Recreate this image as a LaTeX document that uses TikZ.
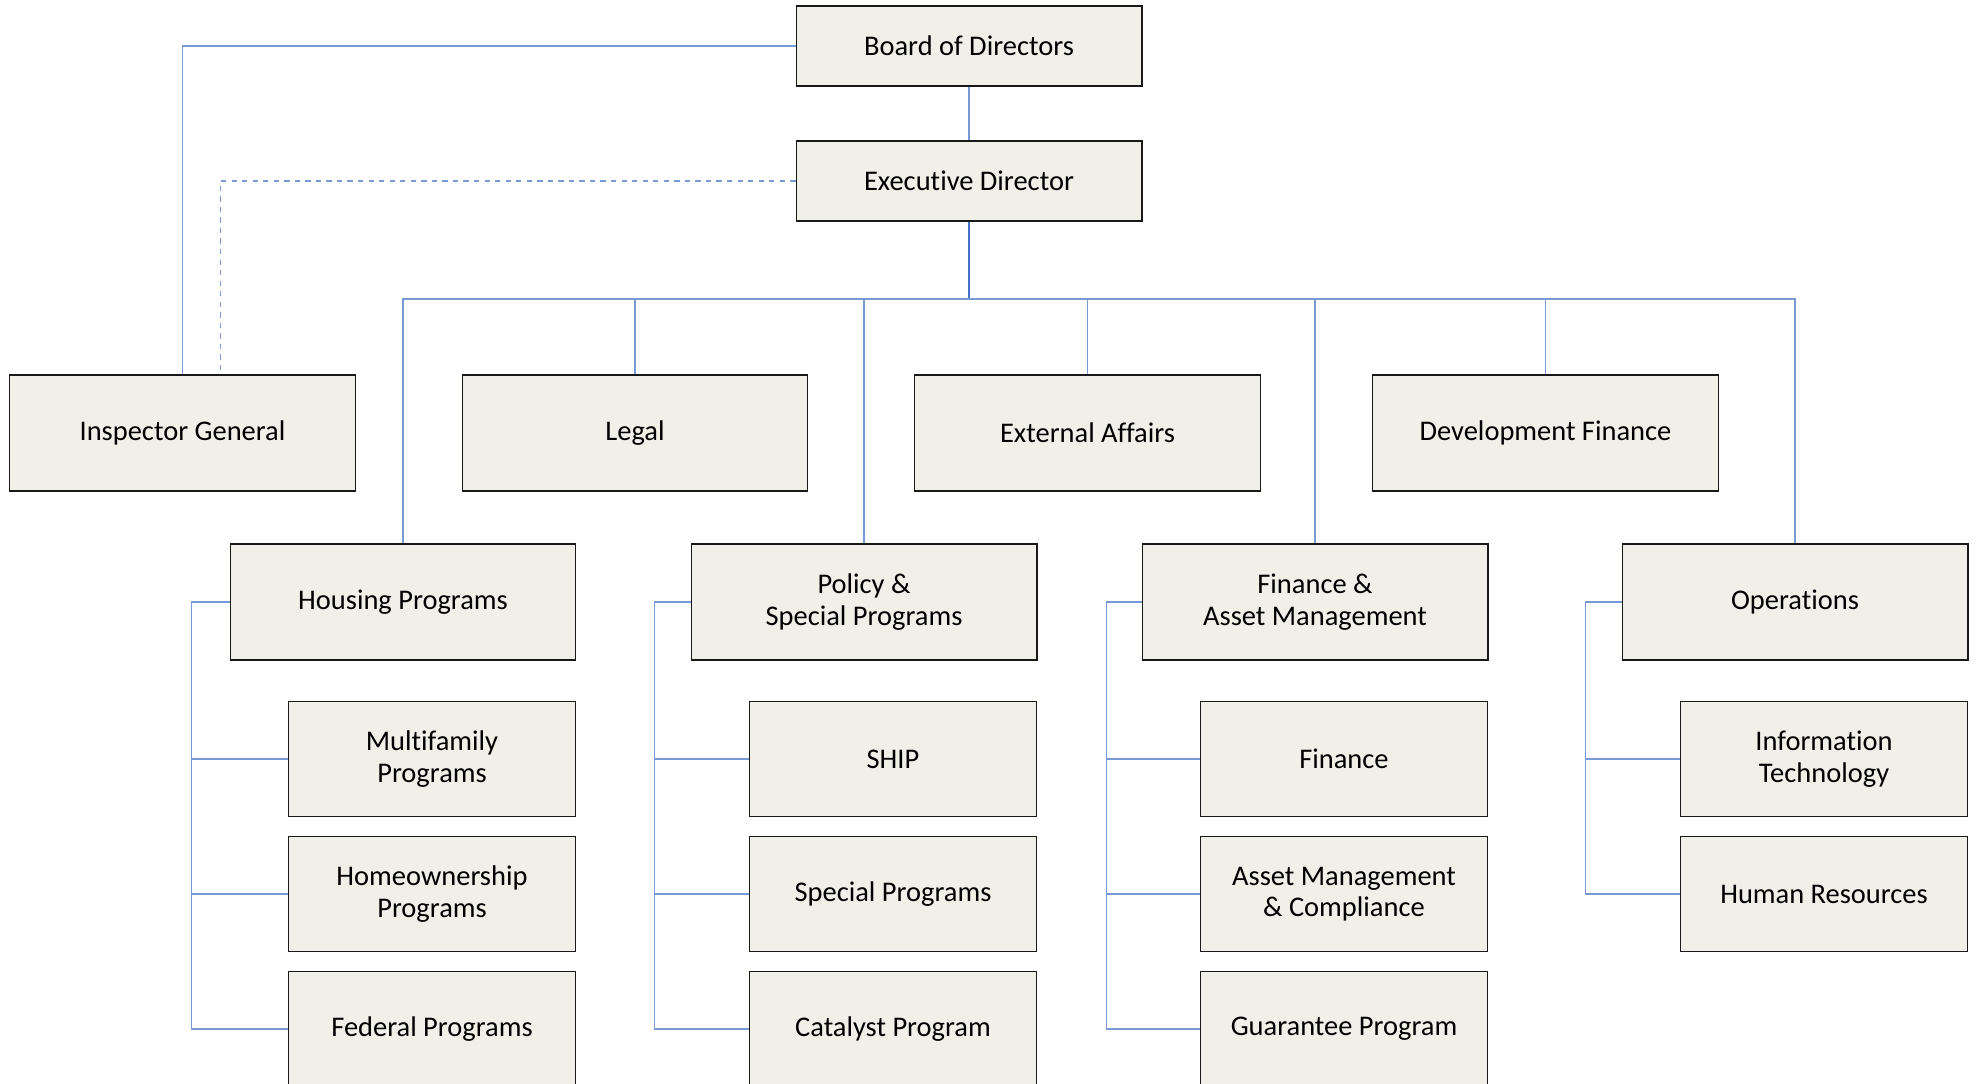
\documentclass[tikz,border=0pt]{standalone}
\usepackage{fontspec}
\setmainfont{Carlito}[Ligatures=NoCommon]
\usepackage{xcolor}
\definecolor{boxfill}{RGB}{240,240,233}
\definecolor{linkblue}{RGB}{120,154,214}
\definecolor{trunkblue}{RGB}{68,114,196}

\begin{document}
\begin{tikzpicture}[x=0.02cm, y=-0.02cm,
        unit/.style={draw=black!90, fill=boxfill, line width=0.6pt, align=center, inner sep=0pt,
            font=\fontsize{16.2pt}{18pt}\selectfont},
        topbox/.style={unit, minimum width=6.92cm, minimum height=1.6cm},
        headbox/.style={unit, minimum width=6.92cm, minimum height=2.32cm},
        subbox/.style={unit, minimum width=5.74cm, minimum height=2.3cm},
        link/.style={draw=linkblue, line width=0.6pt},
        trunk/.style={draw=trunkblue, line width=0.9pt}]
        \useasboundingbox (0,0) rectangle (1979,1084);

        \node[topbox] (board) at (969,46) {Board of Directors};
        \node[topbox] (exec) at (969,181) {Executive Director};
        \coordinate (bus) at (969,299);

        \node[headbox] (inspector) at (182.5,433) {Inspector General};
        \node[headbox] (legal) at (635,433) {Legal};
        \node[headbox] (external) at (1087.5,433) {External Affairs};
        \node[headbox] (devfin) at (1545.5,433) {Development Finance};

        \node[headbox] (housing) at (403,602) {Housing Programs};
        \node[headbox] (policy) at (864,602) {Policy \&\\Special Programs};
        \node[headbox] (finance) at (1315,602) {Finance \&\\Asset Management};
        \node[headbox] (ops) at (1795,602) {Operations};

        % housing programs
        \node[subbox] (multi) at (432,759) {Multifamily\\Programs};
        \node[subbox] (homeown) at (432,894) {Homeownership\\Programs};
        \node[subbox] (federal) at (432,1029) {Federal Programs};
        % policy & special programs
        \node[subbox] (ship) at (893,759) {SHIP};
        \node[subbox] (special) at (893,894) {Special Programs};
        \node[subbox] (catalyst) at (893,1029) {Catalyst Program};
        % finance & asset management
        \node[subbox] (fin) at (1344,759) {Finance};
        \node[subbox] (assetmgmt) at (1344,894) {Asset Management\\\& Compliance};
        \node[subbox] (guarantee) at (1344,1029) {Guarantee Program};
        % operations
        \node[subbox] (infotech) at (1824,759) {Information\\Technology};
        \node[subbox] (humanres) at (1824,894) {Human Resources};

        \draw[link] (board) -- (exec);
        \draw[trunk] (exec.south) -- (bus);
        \draw[link] (board.west) -| (inspector.north);
        \draw[link, dashed] (exec.west) -| ([xshift=0.76cm]inspector.north);

        \draw[link] (bus) -| (housing.north);
        \draw[link] (bus) -| (legal.north);
        \draw[link] (bus) -| (policy.north);
        \draw[link] (bus) -| (external.north);
        \draw[link] (bus) -| (finance.north);
        \draw[link] (bus) -| (devfin.north);
        \draw[link] (bus) -| (ops.north);

        \draw[link] (housing.west) -- ++(-38,0) |- (multi.west);
        \draw[link] (housing.west) -- ++(-38,0) |- (homeown.west);
        \draw[link] (housing.west) -- ++(-38,0) |- (federal.west);
        \draw[link] (policy.west) -- ++(-36,0) |- (ship.west);
        \draw[link] (policy.west) -- ++(-36,0) |- (special.west);
        \draw[link] (policy.west) -- ++(-36,0) |- (catalyst.west);
        \draw[link] (finance.west) -- ++(-35,0) |- (fin.west);
        \draw[link] (finance.west) -- ++(-35,0) |- (assetmgmt.west);
        \draw[link] (finance.west) -- ++(-35,0) |- (guarantee.west);
        \draw[link] (ops.west) -- ++(-36,0) |- (infotech.west);
        \draw[link] (ops.west) -- ++(-36,0) |- (humanres.west);
    \end{tikzpicture}
\end{document}
